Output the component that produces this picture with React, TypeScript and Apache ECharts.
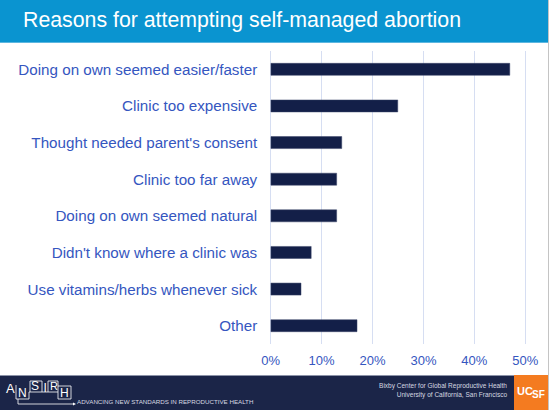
import React, { useEffect, useRef } from "react";
import * as echarts from "echarts";

const categories = [
  "Doing on own seemed easier/faster",
  "Clinic too expensive",
  "Thought needed parent's consent",
  "Clinic too far away",
  "Doing on own seemed natural",
  "Didn't know where a clinic was",
  "Use vitamins/herbs whenever sick",
  "Other",
];
const values = [47, 25, 14, 13, 13, 8, 6, 17];
const titleText = "Reasons for attempting self-managed abortion";
const axisMin = 0;
const axisMax = 50;
const axisInterval = 10;

const FONT = "Liberation Sans, Arial, sans-serif";

export default function App() {
  const ref = useRef<HTMLDivElement>(null);
  useEffect(() => {
    document.body.style.margin = "0";
    const chart = echarts.init(ref.current!, null, { renderer: "svg" });
    chart.setOption({
      animation: false,
      backgroundColor: "#ffffff",
      grid: { left: 270.7, right: 24.7, top: 51, bottom: 66, containLabel: false },
      xAxis: {
        type: "value",
        min: axisMin,
        max: axisMax,
        interval: axisInterval,
        axisLine: { show: false },
        axisTick: { show: false },
        axisLabel: {
          formatter: "{value}%",
          color: "#3556C0",
          fontSize: 13,
          fontFamily: FONT,
          margin: 9.5,
        },
        splitLine: { show: true, lineStyle: { color: "#D6DEF2", width: 1 } },
      },
      yAxis: {
        type: "category",
        inverse: true,
        data: categories,
        axisLine: { show: false },
        axisTick: { show: false },
        axisLabel: {
          color: "#3556C0",
          fontSize: 15.2,
          fontFamily: FONT,
          margin: 13.5,
        },
      },
      series: [
        {
          type: "bar",
          data: values,
          barWidth: 12.5,
          itemStyle: { color: "#131F48", borderColor: "#3B4468", borderWidth: 0.5 },
        },
      ],
      graphic: [
        { type: "rect", shape: { x: 0, y: 0, width: 548, height: 43 }, style: { fill: "#0A94D0" }, silent: true },
        { type: "rect", shape: { x: 0, y: 42, width: 548, height: 1 }, style: { fill: "#5DB7E0" }, silent: true },
        {
          type: "text",
          x: 23,
          y: 20,
          style: { text: titleText, fill: "#ffffff", fontSize: 21.3, fontFamily: FONT, verticalAlign: "middle", align: "left" },
          silent: true,
        },
        { type: "line", shape: { x1: 548.5, y1: 0, x2: 548.5, y2: 410 }, style: { stroke: "#C4C4C4", lineWidth: 1 }, silent: true },
        { type: "rect", shape: { x: 0, y: 375, width: 548, height: 35 }, style: { fill: "#1B2548" }, silent: true },
        { type: "rect", shape: { x: 0, y: 375, width: 548, height: 1 }, style: { fill: "#8C93A8" }, silent: true },
        { type: "rect", shape: { x: 514, y: 375, width: 34, height: 35 }, style: { fill: "#F47B20" }, silent: true },
        {
          type: "text",
          x: 517,
          y: 391,
          style: { text: "UC", fill: "#ffffff", fontSize: 11, fontWeight: "bold", fontFamily: FONT, verticalAlign: "middle" },
          silent: true,
        },
        {
          type: "text",
          x: 532,
          y: 394,
          style: { text: "SF", fill: "#ffffff", fontSize: 10, fontWeight: "bold", fontFamily: FONT, verticalAlign: "middle" },
          silent: true,
        },
        {
          type: "text",
          x: 507,
          y: 385,
          style: { text: "Bixby Center for Global Reproductive Health", fill: "#D6D9E2", fontSize: 6.5, fontFamily: FONT, align: "right", verticalAlign: "middle" },
          silent: true,
        },
        {
          type: "text",
          x: 507,
          y: 394.5,
          style: { text: "University of California, San Francisco", fill: "#D6D9E2", fontSize: 6.5, fontFamily: FONT, align: "right", verticalAlign: "middle" },
          silent: true,
        },
        {
          type: "text",
          x: 77,
          y: 401,
          style: { text: "ADVANCING NEW STANDARDS IN REPRODUCTIVE HEALTH", fill: "#D6D9E2", fontSize: 6.2, fontFamily: FONT, verticalAlign: "middle" },
          silent: true,
        },
        // ANSIRH logo
        { type: "text", x: 6, y: 388, style: { text: "A", fill: "#ffffff", fontSize: 13, fontFamily: FONT, verticalAlign: "middle" }, silent: true },
        { type: "text", x: 18, y: 393, style: { text: "N", fill: "#ffffff", fontSize: 12, fontFamily: FONT, verticalAlign: "middle" }, silent: true },
        { type: "text", x: 31, y: 386, style: { text: "S", fill: "#ffffff", fontSize: 12, fontFamily: FONT, verticalAlign: "middle" }, silent: true },
        { type: "text", x: 43.5, y: 388, style: { text: "I", fill: "#ffffff", fontSize: 12, fontFamily: FONT, verticalAlign: "middle" }, silent: true },
        { type: "text", x: 50, y: 386, style: { text: "R", fill: "#ffffff", fontSize: 11, fontFamily: FONT, verticalAlign: "middle" }, silent: true },
        { type: "text", x: 60, y: 393, style: { text: "H", fill: "#ffffff", fontSize: 12, fontFamily: FONT, verticalAlign: "middle" }, silent: true },
        {
          type: "polyline",
          shape: { points: [[16, 385], [16, 399], [29, 399], [29, 392], [42, 392], [42, 381], [30, 381], [30, 392]] },
          style: { stroke: "#ffffff", lineWidth: 0.8, fill: "none" },
          silent: true,
        },
        {
          type: "polyline",
          shape: { points: [[42, 392], [58, 392], [58, 381], [48, 381], [48, 392]] },
          style: { stroke: "#ffffff", lineWidth: 0.8, fill: "none" },
          silent: true,
        },
        {
          type: "polyline",
          shape: { points: [[58, 386], [71, 386], [71, 399], [58, 399], [58, 392]] },
          style: { stroke: "#ffffff", lineWidth: 0.8, fill: "none" },
          silent: true,
        },
        {
          type: "polyline",
          shape: { points: [[18, 399], [18, 404], [74, 404]] },
          style: { stroke: "#ffffff", lineWidth: 0.8, fill: "none" },
          silent: true,
        },
        {
          type: "polygon",
          shape: { points: [[73, 402.5], [76, 404], [73, 405.5]] },
          style: { fill: "#ffffff" },
          silent: true,
        },
      ],
    });
    return () => chart.dispose();
  }, []);
  return (
    <div
      ref={ref}
      style={{ position: "absolute", left: 0, top: 0, width: 550, height: 410 }}
    />
  );
}
